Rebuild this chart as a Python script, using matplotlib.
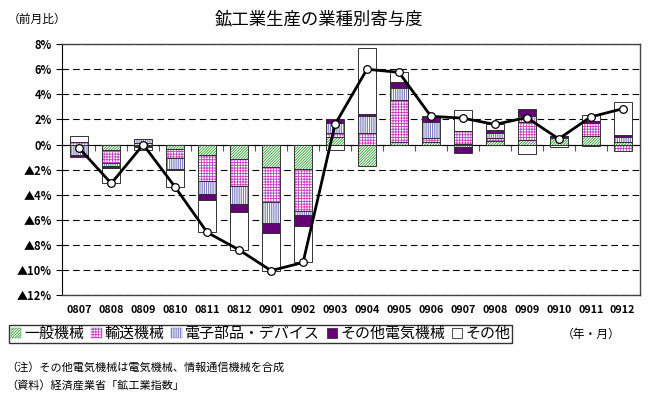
import numpy as np
import matplotlib
matplotlib.use("Agg")
import matplotlib.pyplot as plt
from matplotlib.patches import Patch

plt.rcParams['font.family'] = ['Noto Sans CJK JP', 'DejaVu Sans']
plt.rcParams['hatch.linewidth'] = 0.6

months = ["0807", "0808", "0809", "0810", "0811", "0812", "0901", "0902", "0903",
          "0904", "0905", "0906", "0907", "0908", "0909", "0910", "0911", "0912"]

general = [0.0, -0.45, -0.15, -0.37, -0.8, -1.12, -1.79, -1.92, 0.56,
           -1.75, 0.2, 0.24, 0.05, 0.27, 0.35, 0.5, 0.67, 0.21]
transport = [0.2, -1.05, 0.1, -0.67, -2.1, -2.2, -2.8, -3.39, 0.35,
             0.93, 3.33, 0.27, 1.05, 0.27, 1.47, -0.05, 1.01, -0.53]
electronic = [-0.8, -0.2, 0.3, -0.88, -1.07, -1.39, -1.68, -0.27, 0.8,
              1.33, 0.99, 1.25, -0.19, 0.4, 0.48, 0.03, -0.13, 0.35]
other_elec = [-0.2, -0.2, -0.05, -0.13, -0.48, -0.67, -0.8, -0.91, 0.32,
              0.16, 0.48, 0.4, -0.45, 0.21, 0.53, 0.17, 0.19, 0.21]
others = [0.5, -1.2, -0.2, -1.33, -2.53, -3.0, -2.99, -2.91, -0.45,
          5.3, 0.75, 0.1, 1.65, 0.45, -0.72, -0.17, 0.48, 2.59]
total = [-0.3, -3.1, 0.0, -3.4, -7.0, -8.4, -10.05, -9.4, 1.6,
         6.0, 5.75, 2.25, 2.1, 1.6, 2.15, 0.45, 2.2, 2.85]

series_names = ["一般機械", "輸送機械", "電子部品・デバイス", "その他電気機械", "その他"]
series_vals = [general, transport, electronic, other_elec, others]
# (face, hatch colour, hatch pattern)
styles = [("white", "#2e9e2e", "////////////"),
          ("white", "#c040c0", "++++++"),
          ("white", "#6464b4", "|||||||||"),
          ("#660077", "#660077", None),
          ("white", "white", None)]

ytick_vals = [8, 6, 4, 2, 0, -2, -4, -6, -8, -10, -12]
ytick_labels = [f"{v}%" if v >= 0 else f"▲{-v}%" for v in ytick_vals]

fig = plt.figure(figsize=(6.5, 3.94), dpi=100)
ax = fig.add_axes([0.095, 0.251, 0.89, 0.637])

x = np.arange(len(months))
w = 0.57
pos = np.zeros(len(months))
neg = np.zeros(len(months))
for vals, (face, hc, hatch) in zip(series_vals, styles):
    v = np.array(vals)
    bottom = np.where(v >= 0, pos, neg)
    ax.bar(x, v, w, bottom=bottom, color=face, edgecolor=hc, hatch=hatch,
           linewidth=0, zorder=2)
    ax.bar(x, v, w, bottom=bottom, fill=False, edgecolor="#333333",
           linewidth=0.7, zorder=3)
    pos = pos + np.where(v >= 0, v, 0)
    neg = neg + np.where(v < 0, v, 0)

ax.plot(x, total, color="black", lw=2, marker="o", markersize=5.5,
        markerfacecolor="white", markeredgecolor="black", markeredgewidth=0.9,
        zorder=5)

ax.set_xlim(-0.55, len(months) - 0.45)
ax.set_ylim(-12, 8)
ax.set_yticks(ytick_vals)
ax.set_yticklabels(ytick_labels, fontsize=8)
ax.set_xticks(x)
ax.set_xticklabels(months, fontsize=7.8)
ax.tick_params(axis="x", length=0, pad=7)
ax.tick_params(axis="y", direction="out", length=4, width=0.8, pad=3)
for t in ax.get_yticklabels():
    t.set_fontweight("bold")
for t in ax.get_xticklabels():
    t.set_fontweight("bold")

ax.yaxis.grid(True, color="black", linestyle=(0, (6, 3.5)), linewidth=0.8)
ax.set_axisbelow(True)
for s in ["top", "right", "bottom"]:
    ax.spines[s].set_color("#444444")
    ax.spines[s].set_linewidth(1.0)
ax.spines["left"].set_color("black")

# zero axis with category tick marks
sec = ax.secondary_xaxis(12 / 20)
sec.set_xticks(np.arange(len(months) - 1) + 0.5)
sec.set_xticklabels([])
sec.tick_params(direction="in", length=4, width=0.8, colors="#555555")
sec.spines["bottom"].set_color("black")
sec.spines["bottom"].set_linewidth(1.0)

fig.text(0.49, 0.952, "鉱工業生産の業種別寄与度", ha="center", va="center",
         fontsize=12.5)
fig.text(0.012, 0.952, "（前月比）", ha="left", va="center", fontsize=8.5)

handles = []
for (face, hc, hatch), name in zip(styles, series_names):
    handles.append(Patch(facecolor=face, edgecolor=hc if hatch else "#333333",
                         hatch=hatch, linewidth=0.6 if hatch is None else 0.3,
                         label=name))
leg = fig.legend(handles=handles, loc="center left", bbox_to_anchor=(0.014, 0.152),
                 ncol=5, fontsize=10.8, frameon=True, fancybox=False,
                 edgecolor="black", handlelength=0.7, handleheight=0.7,
                 handletextpad=0.2, columnspacing=0.45, borderpad=0.12,
                 borderaxespad=0)
leg.get_frame().set_linewidth(1.0)

fig.text(0.955, 0.152, "（年・月）", ha="right", va="center", fontsize=8.5)
fig.text(0.01, 0.068, "（注）その他電気機械は電気機械、情報通信機械を合成",
         ha="left", va="center", fontsize=8)
fig.text(0.01, 0.023, "（資料）経済産業省「鉱工業指数」",
         ha="left", va="center", fontsize=8)

fig.savefig("out.png", dpi=100)
